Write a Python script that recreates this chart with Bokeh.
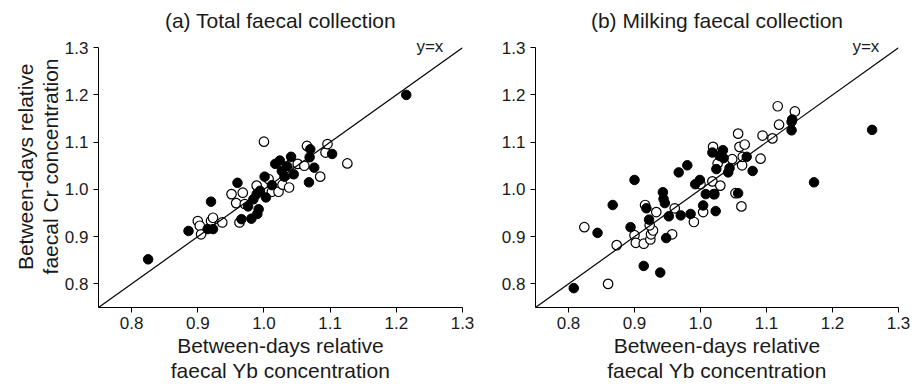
from bokeh.plotting import figure
from bokeh.layouts import row
from bokeh.models import FixedTicker, Label, Title
from bokeh.embed import file_html
from bokeh.resources import INLINE

# ---- data ----
ticks = [0.8, 0.9, 1.0, 1.1, 1.2, 1.3]
tick_labels = ["0.8", "0.9", "1.0", "1.1", "1.2", "1.3"]
identity = [0.75, 1.3]

a_filled_x = [0.825, 1.215, 0.886, 0.920, 0.915, 0.923, 0.960, 0.966, 0.981, 0.990,
              0.992, 0.976, 0.984, 0.989, 0.994, 1.001, 1.003, 1.012, 1.017, 1.024,
              1.027, 1.031, 1.041, 1.045, 1.068, 1.069, 1.070, 1.076, 1.103, 1.035]
a_filled_y = [0.852, 1.200, 0.912, 0.974, 0.916, 0.916, 1.014, 0.937, 0.938, 0.948,
              0.958, 0.964, 0.979, 0.990, 0.997, 1.027, 0.983, 1.009, 1.054, 1.061,
              1.039, 1.027, 1.069, 1.032, 1.015, 1.068, 1.085, 1.046, 1.075, 1.049]
a_open_x = [1.000, 0.900, 0.903, 0.905, 0.920, 0.923, 0.937, 0.951, 0.958, 0.968,
            0.971, 0.963, 0.989, 1.007, 1.012, 1.022, 1.028, 1.038, 1.035, 1.042,
            1.051, 1.061, 1.065, 1.085, 1.093, 1.096, 1.126]
a_open_y = [1.101, 0.933, 0.923, 0.905, 0.933, 0.940, 0.930, 0.990, 0.971, 0.993,
            0.969, 0.930, 1.008, 1.022, 0.995, 0.995, 1.010, 1.004, 1.032, 1.057,
            1.054, 1.050, 1.092, 1.027, 1.078, 1.096, 1.055]

b_filled_x = [0.808, 0.844, 0.867, 0.894, 0.900, 0.914, 0.918, 0.922, 0.939, 0.943,
              0.944, 0.946, 0.948, 0.952, 0.967, 0.970, 0.980, 0.985, 0.992, 0.999,
              1.004, 1.008, 1.018, 1.020, 1.023, 1.024, 1.029, 1.034, 1.035, 1.042,
              1.044, 1.057, 1.070, 1.079, 1.138, 1.138, 1.139, 1.172, 1.260]
b_filled_y = [0.791, 0.908, 0.967, 0.920, 1.020, 0.838, 0.960, 0.936, 0.824, 0.994,
              0.980, 0.971, 0.897, 0.943, 1.036, 0.945, 1.051, 0.948, 1.011, 1.020,
              0.966, 0.990, 1.078, 0.990, 0.954, 1.043, 1.071, 1.083, 1.066, 1.036,
              1.045, 0.992, 1.069, 1.039, 1.125, 1.143, 1.148, 1.015, 1.126]
b_open_x = [0.824, 0.860, 0.873, 0.900, 0.902, 0.914, 0.916, 0.924, 0.925, 0.928,
            0.923, 0.933, 0.957, 0.961, 0.990, 1.004, 1.000, 1.018, 1.019, 1.021,
            1.026, 1.030, 1.048, 1.053, 1.057, 1.059, 1.063, 1.062, 1.067, 1.064,
            1.091, 1.094, 1.109, 1.117, 1.119, 1.143]
b_open_y = [0.920, 0.800, 0.882, 0.903, 0.887, 0.885, 0.967, 0.894, 0.905, 0.913,
            0.924, 0.952, 0.905, 0.960, 0.931, 0.952, 1.011, 1.017, 1.090, 0.990,
            1.055, 1.008, 1.064, 0.992, 1.118, 1.090, 1.051, 0.964, 1.095, 1.069,
            1.065, 1.114, 1.108, 1.176, 1.137, 1.165]

titles = ["(a) Total faecal collection", "(b) Milking faecal collection"]
x_label = "Between-days relative\nfaecal Yb concentration"
y_label_lines = ["Between-days relative", "faecal Cr concentration"]

FONT = "Liberation Sans"
TXT = "#1a1a1a"
H = 388
TOP = 33
BOTTOM = 81


def make(title, fx, fy, ox, oy, width, left, right, ylabel):
    p = figure(width=width, height=H, x_range=(0.75, 1.3), y_range=(0.75, 1.33),
               output_backend="svg", toolbar_location=None,
               min_border_left=left, min_border_right=right,
               min_border_top=TOP, min_border_bottom=BOTTOM)
    p.outline_line_color = None
    p.grid.visible = False

    p.title.text = title
    p.title.align = "center"
    p.title.text_font = FONT
    p.title.text_font_size = "21px"
    p.title.text_font_style = "normal"
    p.title.text_color = TXT
    p.title.standoff = 4

    for ax in (p.xaxis[0], p.yaxis[0]):
        ax.ticker = FixedTicker(ticks=ticks)
        ax.bounds = (0.75, 1.3)
        ax.major_label_overrides = {t: l for t, l in zip(ticks, tick_labels)}
        ax.major_tick_out = 5
        ax.major_tick_in = 0
        ax.minor_tick_out = 0
        ax.minor_tick_in = 0
        ax.axis_line_color = "black"
        ax.major_tick_line_color = "black"
        ax.major_label_text_font = FONT
        ax.major_label_text_font_size = "17px"
        ax.major_label_text_color = TXT
        ax.axis_label_text_font = FONT
        ax.axis_label_text_font_size = "21px"
        ax.axis_label_text_font_style = "normal"
        ax.axis_label_text_color = TXT

    p.xaxis.axis_label = x_label
    p.xaxis.major_label_standoff = 4
    p.xaxis.axis_label_standoff = 2
    p.xaxis.axis_label_text_line_height = 1.12
    p.yaxis.major_label_standoff = 5
    if ylabel:
        p.add_layout(Title(text=ylabel[1], align="right", offset=25, standoff=0,
                           text_font=FONT, text_font_size="21px",
                           text_font_style="normal", text_color=TXT), "left")
        p.add_layout(Title(text=ylabel[0], align="right", offset=30, standoff=0,
                           text_font=FONT, text_font_size="21px",
                           text_font_style="normal", text_color=TXT), "left")

    p.scatter(ox, oy, size=9.5, marker="circle", fill_color="white",
              line_color="black", line_width=1.2)
    p.scatter(fx, fy, size=9.5, marker="circle", fill_color="black",
              line_color="black", line_width=1)
    p.line(identity, identity, line_color="black", line_width=1.2)

    p.add_layout(Label(x=1.271, y=1.302, text="y=x", text_align="right",
                       text_baseline="middle", text_font=FONT,
                       text_font_size="17px", text_color=TXT))
    return p


p1 = make(titles[0], a_filled_x, a_filled_y, a_open_x, a_open_y, 490, 98, 28, y_label_lines)
p2 = make(titles[1], b_filled_x, b_filled_y, b_open_x, b_open_y, 423, 45, 15, None)

layout = row(p1, p2, spacing=0)
open("out.html", "w").write(file_html(layout, INLINE))
